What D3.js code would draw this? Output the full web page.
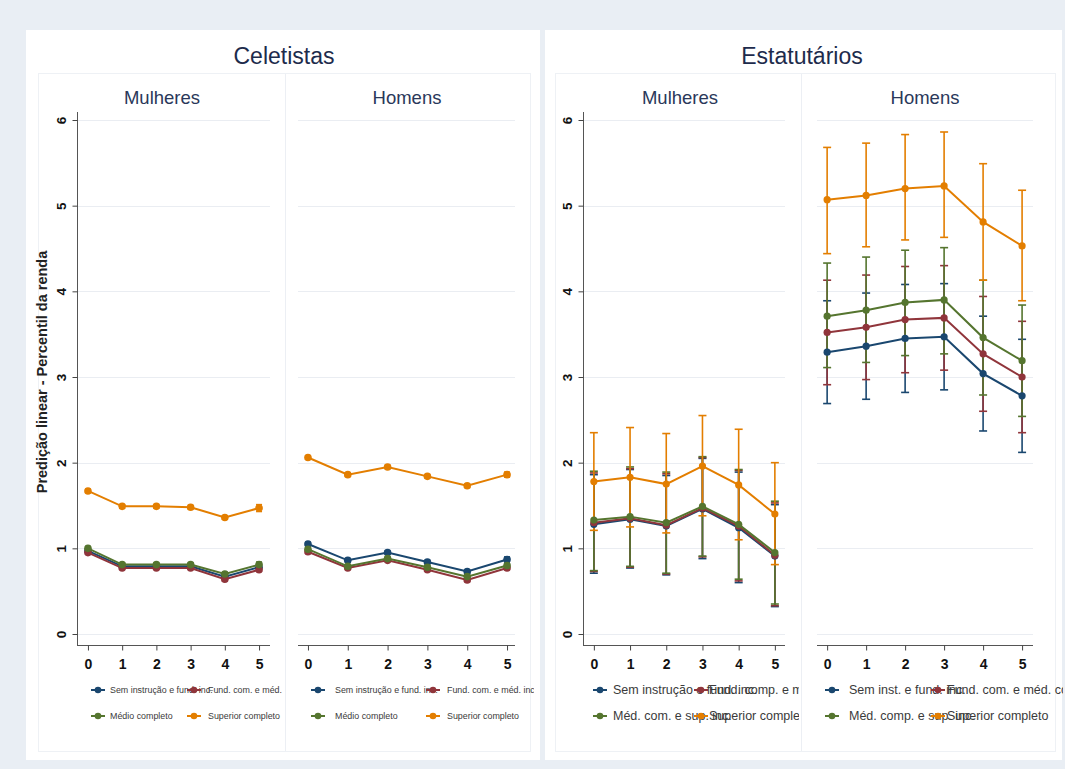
<!DOCTYPE html>
<html><head><meta charset="utf-8">
<script src="https://cdn.jsdelivr.net/npm/d3@7"></script>
<style>
html,body{margin:0;padding:0;background:#e9eef4;}
svg{display:block;font-family:"Liberation Sans",Arial,sans-serif;}
</style></head>
<body><svg id="c" width="1065" height="769"></svg>
<script>
// ---------------- DATA ----------------
const xCats = [0, 1, 2, 3, 4, 5];
const yTicks = [0, 1, 2, 3, 4, 5, 6];
const groupTitles = ["Celetistas", "Estatutários"];
const panelTitles = ["Mulheres", "Homens", "Mulheres", "Homens"];
const yAxisTitle = "Predição linear - Percentil da renda";

const legendCeletistas = ["Sem instrução e fund. inc.", "Fund. com. e méd. inc.", "Médio completo", "Superior completo"];
const legendEstMulheres = ["Sem instrução e fund. inc.", "Fund. comp. e méd. inc.", "Méd. com. e sup. inc.", "Superior completo"];
const legendEstHomens = ["Sem inst. e fund. inc.", "Fund. com. e méd. com.", "Méd. comp. e sup. inc.", "Superior completo"];

// Celetistas - Mulheres
const cm_sem = [0.97, 0.79, 0.79, 0.79, 0.67, 0.78];
const cm_fund = [0.95, 0.77, 0.77, 0.77, 0.64, 0.75];
const cm_med = [1.00, 0.81, 0.81, 0.81, 0.70, 0.81];
const cm_sup = [1.67, 1.49, 1.49, 1.48, 1.36, 1.47];
const cm_sem_err = [0.02, 0.01, 0.01, 0.01, 0.02, 0.02];
const cm_fund_err = [0.02, 0.01, 0.01, 0.01, 0.02, 0.02];
const cm_med_err = [0.02, 0.02, 0.02, 0.02, 0.02, 0.03];
const cm_sup_err = [0.02, 0.02, 0.02, 0.02, 0.02, 0.04];

// Celetistas - Homens
const ch_sem = [1.05, 0.86, 0.95, 0.84, 0.73, 0.87];
const ch_fund = [0.96, 0.77, 0.86, 0.75, 0.63, 0.77];
const ch_med = [0.99, 0.79, 0.88, 0.78, 0.67, 0.80];
const ch_sup = [2.06, 1.86, 1.95, 1.84, 1.73, 1.86];
const ch_sem_err = [0.02, 0.02, 0.02, 0.02, 0.02, 0.03];
const ch_fund_err = [0.02, 0.01, 0.01, 0.01, 0.02, 0.02];
const ch_med_err = [0.02, 0.02, 0.02, 0.02, 0.02, 0.02];
const ch_sup_err = [0.02, 0.02, 0.02, 0.02, 0.02, 0.03];

// Estatutários - Mulheres
const em_sem = [1.28, 1.34, 1.26, 1.46, 1.24, 0.91];
const em_fund = [1.30, 1.35, 1.27, 1.47, 1.26, 0.92];
const em_med = [1.33, 1.37, 1.30, 1.49, 1.28, 0.95];
const em_sup = [1.78, 1.83, 1.75, 1.96, 1.74, 1.40];
const em_sem_lo = [0.71, 0.77, 0.69, 0.88, 0.60, 0.32];
const em_sem_hi = [1.86, 1.92, 1.85, 2.05, 1.89, 1.51];
const em_fund_lo = [0.73, 0.78, 0.70, 0.90, 0.62, 0.33];
const em_fund_hi = [1.88, 1.93, 1.87, 2.06, 1.91, 1.53];
const em_med_lo = [0.74, 0.79, 0.71, 0.91, 0.64, 0.35];
const em_med_hi = [1.90, 1.95, 1.89, 2.07, 1.92, 1.55];
const em_sup_lo = [1.21, 1.25, 1.18, 1.38, 1.10, 0.81];
const em_sup_hi = [2.35, 2.41, 2.34, 2.55, 2.39, 2.00];

// Estatutários - Homens
const eh_sem = [3.29, 3.36, 3.45, 3.47, 3.04, 2.78];
const eh_fund = [3.52, 3.58, 3.67, 3.69, 3.27, 3.00];
const eh_med = [3.71, 3.78, 3.87, 3.90, 3.46, 3.19];
const eh_sup = [5.07, 5.12, 5.20, 5.23, 4.81, 4.53];
const eh_sem_lo = [2.69, 2.74, 2.82, 2.85, 2.37, 2.12];
const eh_sem_hi = [3.89, 3.98, 4.08, 4.09, 3.71, 3.44];
const eh_fund_lo = [2.91, 2.97, 3.05, 3.08, 2.60, 2.35];
const eh_fund_hi = [4.13, 4.19, 4.29, 4.30, 3.94, 3.65];
const eh_med_lo = [3.11, 3.17, 3.25, 3.27, 2.79, 2.54];
const eh_med_hi = [4.33, 4.40, 4.48, 4.51, 4.13, 3.84];
const eh_sup_lo = [4.44, 4.52, 4.60, 4.63, 4.13, 3.89];
const eh_sup_hi = [5.68, 5.73, 5.83, 5.86, 5.49, 5.18];

// ---------------- BUILD ----------------
const colors = ["#1a476f", "#90353b", "#55752f", "#e37e00"];
const sym = (v, e) => v.map((d, i) => [d - e[i], d + e[i]]);
const pair = (lo, hi) => lo.map((d, i) => [d, hi[i]]);

const panels = [
  { title: panelTitles[0], cx: 162, range: [77, 270], pad: [0.32, 0.32], yAxis: true, axisX: 77,
    legend: legendCeletistas, leg: { m1: 98, t1: 110, m2: 194, t2: 208, fs: 8.9, clipL: 40, clipR: 284 }, cap: 6, r: 3.8,
    series: [[cm_sem, sym(cm_sem, cm_sem_err)], [cm_fund, sym(cm_fund, cm_fund_err)], [cm_med, sym(cm_med, cm_med_err)], [cm_sup, sym(cm_sup, cm_sup_err)]] },
  { title: panelTitles[1], cx: 407, range: [298, 515], pad: [0.25, 0.2], yAxis: false,
    legend: legendCeletistas, leg: { m1: 318, t1: 335, m2: 433, t2: 447, fs: 8.9, clipL: 287, clipR: 534 }, cap: 6, r: 3.8,
    series: [[ch_sem, sym(ch_sem, ch_sem_err)], [ch_fund, sym(ch_fund, ch_fund_err)], [ch_med, sym(ch_med, ch_med_err)], [ch_sup, sym(ch_sup, ch_sup_err)]] },
  { title: panelTitles[2], cx: 680, range: [583, 785], pad: [0.3, 0.28], yAxis: true, axisX: 583,
    legend: legendEstMulheres, leg: { m1: 600, t1: 613, m2: 701, t2: 709, fs: 12.5, clipL: 556, clipR: 799 }, cap: 8, r: 3.6,
    series: [[em_sem, pair(em_sem_lo, em_sem_hi)], [em_fund, pair(em_fund_lo, em_fund_hi)], [em_med, pair(em_med_lo, em_med_hi)], [em_sup, pair(em_sup_lo, em_sup_hi)]] },
  { title: panelTitles[3], cx: 925, range: [817, 1033], pad: [0.26, 0.28], yAxis: false,
    legend: legendEstHomens, leg: { m1: 832, t1: 849, m2: 938, t2: 947, fs: 12.5, clipL: 803, clipR: 1063 }, cap: 8, r: 3.6,
    series: [[eh_sem, pair(eh_sem_lo, eh_sem_hi)], [eh_fund, pair(eh_fund_lo, eh_fund_hi)], [eh_med, pair(eh_med_lo, eh_med_hi)], [eh_sup, pair(eh_sup_lo, eh_sup_hi)]] }
];

const svg = d3.select("#c");
const defs = svg.append("defs");

// group boxes
svg.append("rect").attr("x", 26).attr("y", 30).attr("width", 514).attr("height", 730).attr("fill", "#fff");
svg.append("rect").attr("x", 545).attr("y", 30).attr("width", 517).attr("height", 730).attr("fill", "#fff");
// inner faint boxes
svg.append("rect").attr("x", 38.5).attr("y", 73.5).attr("width", 492).attr("height", 678).attr("fill", "none").attr("stroke", "#eef1f5");
svg.append("rect").attr("x", 555.5).attr("y", 73.5).attr("width", 500).attr("height", 678).attr("fill", "none").attr("stroke", "#eef1f5");
svg.append("line").attr("x1", 285.5).attr("x2", 285.5).attr("y1", 74).attr("y2", 751).attr("stroke", "#eceff4");
svg.append("line").attr("x1", 801.5).attr("x2", 801.5).attr("y1", 74).attr("y2", 751).attr("stroke", "#eceff4");

// group titles
svg.append("text").attr("x", 284).attr("y", 64).attr("text-anchor", "middle").attr("font-size", 23).attr("fill", "#1d2b4c").text(groupTitles[0]);
svg.append("text").attr("x", 802).attr("y", 64).attr("text-anchor", "middle").attr("font-size", 23).attr("fill", "#1d2b4c").text(groupTitles[1]);

// y axis title
svg.append("text").attr("transform", "translate(47,372) rotate(-90)").attr("text-anchor", "middle")
  .attr("font-size", 14.5).attr("font-weight", "bold").attr("fill", "#222").text(yAxisTitle);

const y = d3.scaleLinear().domain([0, 6]).range([634, 120]);

panels.forEach((p, pi) => {
  const g = svg.append("g");
  const x = d3.scaleLinear().domain([-p.pad[0], 5 + p.pad[1]]).range(p.range);

  // subtitle
  g.append("text").attr("x", p.cx).attr("y", 104).attr("text-anchor", "middle").attr("font-size", 18.5).attr("fill", "#2a385a").text(p.title);

  // gridlines
  g.selectAll(".grid").data(yTicks).enter().append("line")
    .attr("x1", p.range[0]).attr("x2", p.range[1])
    .attr("y1", d => Math.round(y(d)) + 0.5).attr("y2", d => Math.round(y(d)) + 0.5)
    .attr("stroke", "#eaedf2").attr("stroke-width", 1);

  // x axis
  const xAxis = d3.axisBottom(x).tickValues(xCats).tickSize(5).tickFormat(d3.format("d"));
  const xa = g.append("g").attr("transform", "translate(0,645.5)").call(xAxis);
  xa.select(".domain").attr("stroke", "#555").attr("d", `M${p.range[0]},0H${p.range[1]}`);
  xa.selectAll(".tick line").attr("stroke", "#444");
  xa.selectAll(".tick text").attr("font-size", 14).attr("font-weight", "bold").attr("fill", "#111").attr("dy", "1.1em")
    .attr("font-family", '"Liberation Sans",Arial,sans-serif');

  // y axis
  if (p.yAxis) {
    const yAxis = d3.axisLeft(y).tickValues(yTicks).tickSize(5).tickFormat(d3.format("d"));
    const ya = g.append("g").attr("transform", `translate(${p.axisX + 0.5},0)`).call(yAxis);
    ya.select(".domain").attr("stroke", "#555").attr("d", "M0,112V645.5");
    ya.selectAll(".tick line").attr("stroke", "#444");
    ya.selectAll(".tick text").attr("font-size", 13.5).attr("font-weight", "bold").attr("fill", "#111")
      .attr("font-family", '"Liberation Sans",Arial,sans-serif')
      .attr("transform", "rotate(-90)").attr("x", 0).attr("y", -12).attr("dy", "0").attr("text-anchor", "middle");
  }

  // CIs
  p.series.forEach((s, si) => {
    const ci = s[1];
    const cg = g.append("g").attr("stroke", colors[si]).attr("stroke-width", 1.6).attr("fill", "none");
    cg.selectAll("line.v").data(ci).enter().append("line")
      .attr("x1", (d, i) => x(xCats[i])).attr("x2", (d, i) => x(xCats[i]))
      .attr("y1", d => y(d[0])).attr("y2", d => y(d[1]));
    cg.selectAll("line.lo").data(ci).enter().append("line")
      .attr("x1", (d, i) => x(xCats[i]) - p.cap / 2).attr("x2", (d, i) => x(xCats[i]) + p.cap / 2)
      .attr("y1", d => y(d[0])).attr("y2", d => y(d[0]));
    cg.selectAll("line.hi").data(ci).enter().append("line")
      .attr("x1", (d, i) => x(xCats[i]) - p.cap / 2).attr("x2", (d, i) => x(xCats[i]) + p.cap / 2)
      .attr("y1", d => y(d[1])).attr("y2", d => y(d[1]));
  });

  // lines + markers
  const line = d3.line().x((d, i) => x(xCats[i])).y(d => y(d));
  p.series.forEach((s, si) => {
    g.append("path").datum(s[0]).attr("d", line).attr("fill", "none").attr("stroke", colors[si]).attr("stroke-width", 2);
    g.selectAll(null).data(s[0]).enter().append("circle")
      .attr("cx", (d, i) => x(xCats[i])).attr("cy", d => y(d)).attr("r", p.r).attr("fill", colors[si]);
  });

  // legend (texts overlap and are clipped at the panel edge, as in the reference)
  const L = p.leg;
  const cid = "clip" + pi;
  defs.append("clipPath").attr("id", cid).append("rect").attr("x", L.clipL).attr("y", 670).attr("width", L.clipR - L.clipL).attr("height", 70);
  const lg = g.append("g").attr("clip-path", `url(#${cid})`);
  const pos = [[L.m1, L.t1, 690], [L.m2, L.t2, 690], [L.m1, L.t1, 716], [L.m2, L.t2, 716]];
  p.legend.forEach((lab, li) => {
    const [mx, tx, ly] = pos[li];
    lg.append("line").attr("x1", mx - 7).attr("x2", mx + 7).attr("y1", ly).attr("y2", ly).attr("stroke", colors[li]).attr("stroke-width", 2);
    lg.append("circle").attr("cx", mx).attr("cy", ly).attr("r", 3.3).attr("fill", colors[li]);
    lg.append("text").attr("x", tx).attr("y", ly).attr("dy", "0.35em").attr("font-size", L.fs).attr("fill", "#3a3a3a").text(lab);
  });
});
</script></body></html>
